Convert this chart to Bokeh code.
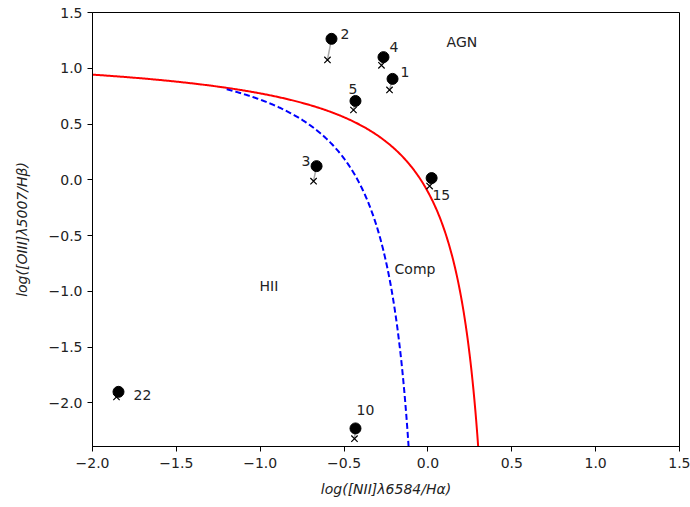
import numpy as np
from bokeh.plotting import figure
from bokeh.models import Range1d, FixedTicker, CustomJSTickFormatter, ColumnDataSource
from bokeh.core.properties import value
from bokeh.embed import file_html
from bokeh.resources import INLINE

# Galaxy ids and measured line ratios (circles) and corrected ratios (crosses)
ids = ["1", "2", "3", "4", "5", "10", "15", "22"]
nii_obs = [-0.211, -0.575, -0.664, -0.265, -0.432, -0.432, 0.022, -1.845]
oiii_obs = [0.905, 1.264, 0.123, 1.100, 0.707, -2.228, 0.016, -1.900]
nii_cor = [-0.229, -0.599, -0.682, -0.277, -0.444, -0.438, 0.010, -1.857]
oiii_cor = [0.806, 1.075, -0.012, 1.027, 0.626, -2.320, -0.056, -1.946]
# label anchors (data coords)
lab_x = [-0.163, -0.521, -0.754, -0.229, -0.473, -0.426, 0.027, -1.755]
lab_y = [0.968, 1.309, 0.167, 1.19, 0.81, -2.06, -0.133, -1.925]

region_names = ["AGN", "Comp", "HII"]
region_x = [0.111, -0.199, -1.004]
region_y = [1.24, -0.80, -0.95]

# demarcation lines: y = a / (x - b) + c
kewley = (0.61, 0.47, 1.19)
kauffmann = (0.61, 0.05, 1.30)

x_ticks = [-2.0, -1.5, -1.0, -0.5, 0.0, 0.5, 1.0, 1.5]
y_ticks = [-2.0, -1.5, -1.0, -0.5, 0.0, 0.5, 1.0, 1.5]
XMIN, XMAX, YMIN, YMAX = -2.0, 1.5, -2.39, 1.5

p = figure(width=690, height=507, output_backend="svg", toolbar_location=None,
           x_range=Range1d(XMIN, XMAX), y_range=Range1d(YMIN, YMAX),
           min_border_left=92, min_border_right=11, min_border_top=12, min_border_bottom=61)
p.grid.visible = False
p.outline_line_color = "black"
p.outline_line_width = 1
p.background_fill_color = "white"

fmt = CustomJSTickFormatter(code="return tick.toFixed(1).replace('-', '\u2212');")
for ax, ticks in ((p.xaxis, x_ticks), (p.yaxis, y_ticks)):
    ax.ticker = FixedTicker(ticks=ticks)
    ax.formatter = fmt
    ax.minor_tick_line_color = None
    ax.major_tick_out = 5
    ax.major_tick_in = 0
    ax.major_label_text_font = "DejaVu Sans"
    ax.major_label_text_font_size = "14px"
    ax.major_label_text_color = "#222222"
    ax.axis_label_text_font = "DejaVu Sans"
    ax.axis_label_text_font_size = "14px"
    ax.axis_label_text_font_style = "italic"
    ax.axis_label_text_color = "#222222"
p.xaxis.axis_label = "log([NII]λ6584/Hα)"
p.yaxis.axis_label = "log([OIII]λ5007/Hβ)"
p.xaxis.major_label_standoff = 6
p.xaxis.axis_label_standoff = 10
p.yaxis.major_label_standoff = 5
p.yaxis.axis_label_standoff = 16

# Kewley curve
a, b, c = kewley
xk = np.linspace(XMIN, 0.3, 400)
yk = a / (xk - b) + c
m = yk >= YMIN - 0.05
p.line(xk[m], yk[m], line_color="red", line_width=2)

# Kauffmann curve
a, b, c = kauffmann
xa = np.linspace(-1.2, -0.11, 400)
ya = a / (xa - b) + c
m = ya >= YMIN - 0.05
p.line(xa[m], ya[m], line_color="blue", line_width=2, line_dash="6 3")

src = ColumnDataSource(dict(x0=nii_obs, y0=oiii_obs, x1=nii_cor, y1=oiii_cor,
                            lx=lab_x, ly=lab_y, t=ids))
p.segment(x0="x1", y0="y1", x1="x0", y1="y0", source=src, line_color="#aaaaaa", line_width=1.5)
p.scatter(x="x1", y="y1", source=src, marker="x", size=9, line_color="black", line_width=1.2)
p.scatter(x="x0", y="y0", source=src, marker="circle", size=11, fill_color="black", line_color="black")
p.text(x="lx", y="ly", text="t", source=src, text_font=value("DejaVu Sans"),
       text_font_size="14px", text_baseline="middle", text_align="left", text_color="#222222")

p.text(x=region_x, y=region_y, text=region_names, text_font=value("DejaVu Sans"),
       text_font_size="14px", text_baseline="middle", text_align="left", text_color="#222222")

open("out.html", "w").write(file_html(p, INLINE))
